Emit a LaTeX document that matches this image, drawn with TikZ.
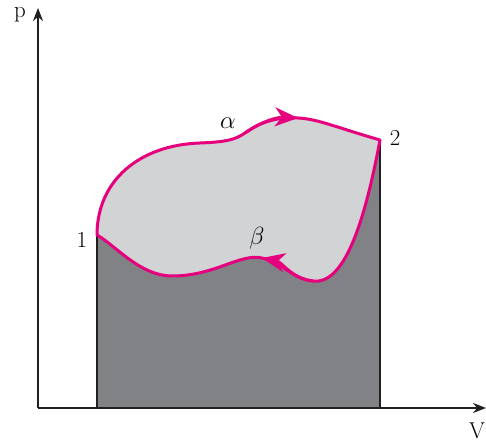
\documentclass[tikz,border=0pt]{standalone}
\usepackage{amsmath}
\usepackage{amssymb}
\usetikzlibrary{arrows.meta}
\definecolor{cyclecol}{RGB}{230,0,126}
\definecolor{lightarea}{RGB}{209,211,212}
\definecolor{darkarea}{RGB}{128,130,133}
\definecolor{axiscol}{RGB}{35,31,32}

\begin{document}
\begin{tikzpicture}[x=1bp,y=-1bp,font=\fontsize{23}{27}\selectfont,
  axis/.style={draw=axiscol,line width=2bp,-{Stealth[length=13bp,width=10bp]}},
  cycle/.style={draw=cyclecol,line width=3bp,line join=round},
  midtip/.style={-{Stealth[length=23bp,width=19bp,inset=7bp]}}]
  \useasboundingbox (0,0) rectangle (486,442);
  \coordinate (O) at (38,408);
  \coordinate (pend) at (38,8);
  \coordinate (vend) at (486,408);
  \coordinate (s1) at (97,235);
  \coordinate (s2) at (380,140);
  \coordinate (s1base) at (97,408);
  \coordinate (s2base) at (380,408);
  \coordinate (atip) at (298,118);
  \coordinate (btip) at (262,258);
  % work done on the way back
  \fill[darkarea] (s1base) -- (s1) .. controls (115,245) and (140,276) .. (172,276)
    .. controls (215,276) and (240,253) .. (btip)
    .. controls (282,262) and (292,279) .. (313,281)
    .. controls (345,285) and (365,220) .. (s2) -- (s2base) -- cycle;
  % net work of the cycle
  \fill[lightarea] (s1) .. controls (97,180) and (140,145) .. (200,143)
    .. controls (225,142) and (235,140) .. (245,133)
    .. controls (262,121) and (278,117) .. (atip)
    .. controls (318,119) and (335,127) .. (s2)
    .. controls (365,220) and (345,285) .. (313,281)
    .. controls (292,279) and (282,262) .. (btip)
    .. controls (240,253) and (215,276) .. (172,276)
    .. controls (140,276) and (115,245) .. (s1);
  \draw[axiscol,line width=1.5bp] (s1base) -- (s1);
  \draw[axiscol,line width=1.5bp] (s2base) -- (s2);
  \draw[axis] (O) -- (pend);
  \draw[axis] (O) -- (vend);
  % the whole cycle
  \draw[cycle] (s1) .. controls (97,180) and (140,145) .. (200,143)
    .. controls (225,142) and (235,140) .. (245,133)
    .. controls (262,121) and (278,117) .. (atip)
    .. controls (318,119) and (335,127) .. (s2)
    .. controls (365,220) and (345,285) .. (313,281)
    .. controls (292,279) and (282,262) .. (btip)
    .. controls (240,253) and (215,276) .. (172,276)
    .. controls (140,276) and (115,245) .. (s1) -- cycle;
  % arrows on alpha and beta
  \draw[cycle,midtip] (245,133) .. controls (262,121) and (278,117) .. (atip);
  \draw[cycle,midtip] (313,281) .. controls (292,279) and (282,262) .. (btip);
  \node (plab) at (20,15) {p};
  \node (vlab) at (477,431) {V};
  \node (lab1) at (82,240) {1};
  \node (lab2) at (395,138) {2};
  \node (alab) at (228,123) {$\alpha$};
  \node (blab) at (257,238) {$\beta$};
\end{tikzpicture}
\end{document}
